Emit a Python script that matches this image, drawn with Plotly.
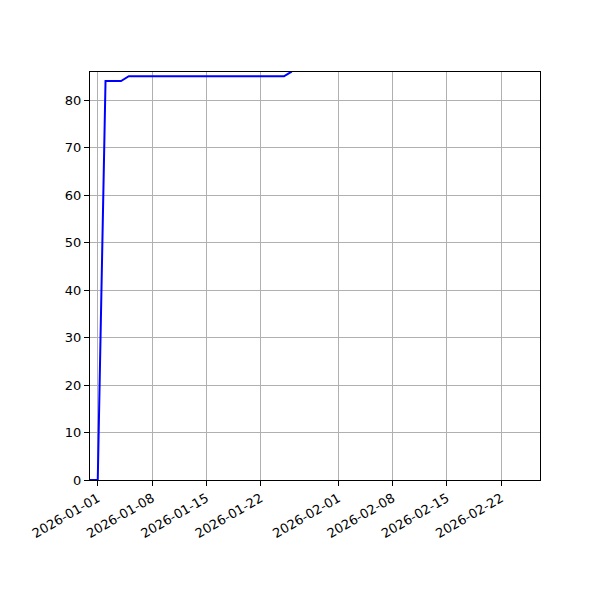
import plotly.graph_objects as go
import pandas as pd

dates = pd.date_range("2025-12-31", "2026-01-26", freq="D")
values = [0, 0, 84, 84, 84] + [85] * 21 + [86]

tick_dates = ["2026-01-01", "2026-01-08", "2026-01-15", "2026-01-22",
              "2026-02-01", "2026-02-08", "2026-02-15", "2026-02-22"]

fig = go.Figure(
    data=[
        go.Scatter(
            x=dates,
            y=values,
            mode="lines",
            line=dict(color="#0000ff", width=2),
        )
    ]
)

axis_style = dict(
    showline=True, linecolor="black", linewidth=1, mirror=True,
    showgrid=True, gridcolor="#b0b0b0", gridwidth=1,
    ticks="outside", ticklen=5, tickcolor="black",
    zeroline=False,
    tickfont=dict(family="DejaVu Sans", size=13, color="black"),
)

fig.update_xaxes(
    range=["2025-12-31", "2026-02-27"],
    tickvals=tick_dates, tickformat="%Y-%m-%d", tickangle=-30,
    **axis_style,
)
fig.update_yaxes(range=[0, 85.9], dtick=10, **axis_style)

# page body adds an 8px offset, so margins are shifted to compensate
fig.update_layout(
    width=600, height=600,
    margin=dict(l=82, r=68, t=64, b=128),
    plot_bgcolor="white", paper_bgcolor="white",
    showlegend=False,
)

fig.write_html("out.html")
